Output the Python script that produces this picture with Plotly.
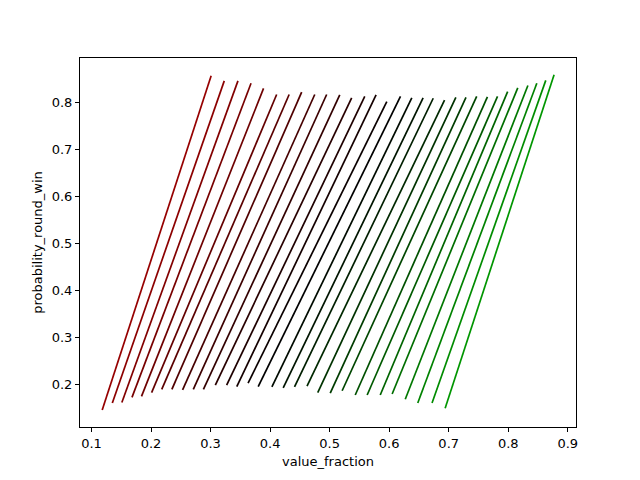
import plotly.graph_objects as go

OUT_HTML = 'out.html'

# one line per curve: lower end and upper end
x_bottom = [0.118, 0.135, 0.151, 0.168, 0.184, 0.201, 0.218, 0.235, 0.253, 0.271,
            0.288, 0.308, 0.327, 0.344, 0.363, 0.380, 0.403, 0.422, 0.441, 0.462,
            0.480, 0.501, 0.521, 0.543, 0.563, 0.585, 0.605, 0.627, 0.648, 0.672,
            0.694]
y_bottom = [0.145, 0.160, 0.161, 0.172, 0.174, 0.182, 0.189, 0.189, 0.188, 0.189,
            0.189, 0.198, 0.198, 0.195, 0.202, 0.195, 0.194, 0.192, 0.194, 0.196,
            0.182, 0.181, 0.186, 0.177, 0.177, 0.177, 0.179, 0.168, 0.160, 0.160,
            0.149]
x_top = [0.301, 0.323, 0.346, 0.368, 0.389, 0.411, 0.432, 0.453, 0.475, 0.495,
         0.517, 0.537, 0.559, 0.578, 0.596, 0.619, 0.638, 0.657, 0.674, 0.693,
         0.712, 0.729, 0.747, 0.765, 0.782, 0.799, 0.816, 0.833, 0.848, 0.863,
         0.877]
y_top = [0.856, 0.845, 0.845, 0.840, 0.829, 0.816, 0.816, 0.821, 0.816, 0.816,
         0.815, 0.809, 0.812, 0.815, 0.801, 0.812, 0.809, 0.809, 0.808, 0.804,
         0.810, 0.810, 0.812, 0.811, 0.812, 0.822, 0.830, 0.835, 0.840, 0.846,
         0.858]

X_TICKS = [0.1, 0.2, 0.3, 0.4, 0.5, 0.6, 0.7, 0.8, 0.9]
Y_TICKS = [0.2, 0.3, 0.4, 0.5, 0.6, 0.7, 0.8]


def line_colour(i, n):
    # red -> black -> green across the family of curves
    d = (i - (n - 1) / 2) / ((n - 1) / 2)
    r = int(round(max(0.0, -d) * 150))
    g = int(round(max(0.0, d) * 150))
    return 'rgb({},{},0)'.format(r, g)


def build_figure():
    fig = go.Figure()
    n = len(x_bottom)
    for i in range(n):
        fig.add_trace(go.Scatter(
            x=[x_bottom[i], x_top[i]],
            y=[y_bottom[i], y_top[i]],
            mode='lines',
            line=dict(color=line_colour(i, n), width=1.7),
            showlegend=False,
            hoverinfo='skip',
        ))

    axis_common = dict(
        showgrid=False, zeroline=False,
        showline=True, linecolor='black', linewidth=1, mirror=True,
        ticks='outside', ticklen=4, tickwidth=1, tickcolor='black',
        tickfont=dict(family='DejaVu Sans', size=13, color='black'),
    )
    fig.update_xaxes(range=[0.0807, 0.9138], tickvals=X_TICKS,
                     ticktext=['{:.1f}'.format(v) for v in X_TICKS],
                     title=dict(text='value_fraction', standoff=7,
                                font=dict(family='DejaVu Sans', size=13, color='black')),
                     **axis_common)
    fig.update_yaxes(range=[0.1089, 0.8936], tickvals=Y_TICKS,
                     ticktext=['{:.1f}'.format(v) for v in Y_TICKS],
                     title=dict(text='probability_round_win', standoff=6,
                                font=dict(family='DejaVu Sans', size=13, color='black')),
                     **axis_common)
    # page body has an 8px margin, so the figure is shifted; margins compensate
    fig.update_layout(
        width=632, height=472,
        margin=dict(l=72, r=64, t=50, b=53),
        plot_bgcolor='white',
        paper_bgcolor='white',
    )
    return fig


def main():
    fig = build_figure()
    fig.write_html(OUT_HTML)
    print('figure saved at {}'.format(OUT_HTML))


if __name__ == '__main__':
    main()
